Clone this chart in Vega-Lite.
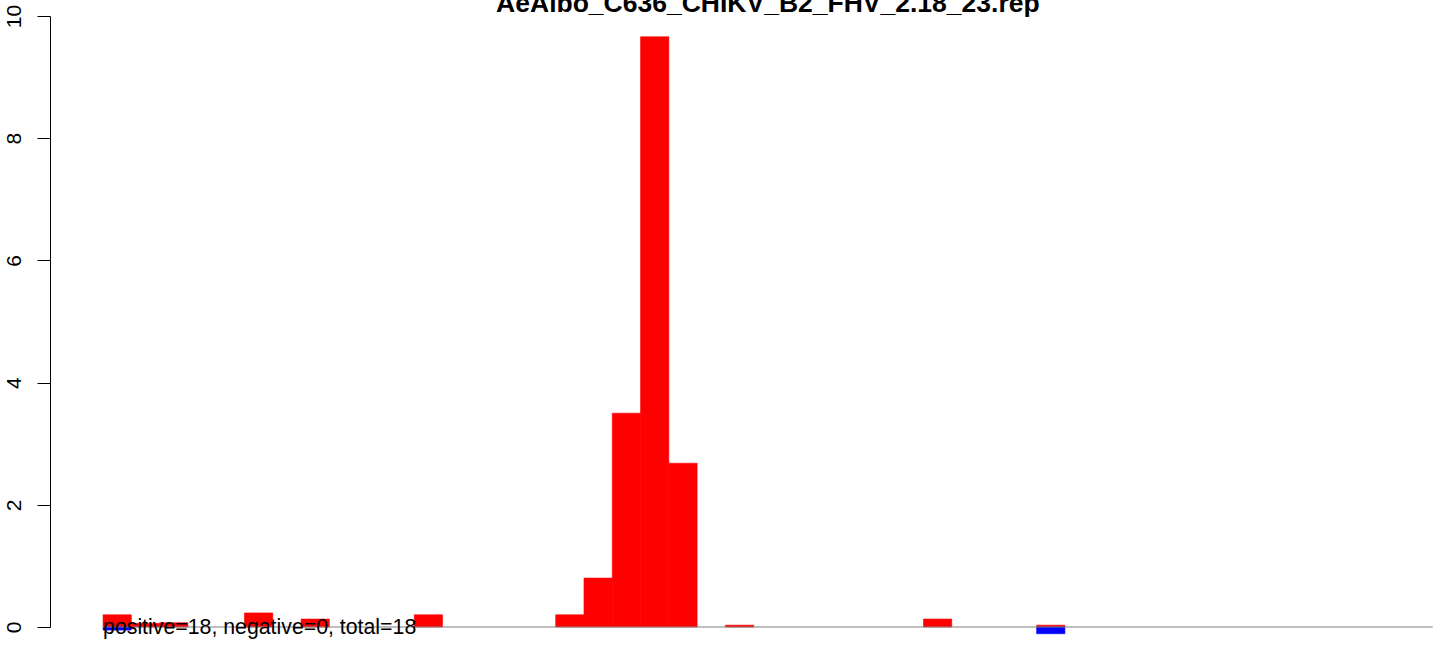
{
  "$schema": "https://vega.github.io/schema/vega-lite/v6.json",
  "autosize": {"type": "none"},
  "width": 1394,
  "height": 611,
  "padding": {"left": 50, "top": 16, "right": 0, "bottom": 18},
  "background": "white",
  "config": {"view": {"stroke": null}, "font": "Liberation Sans"},
  "datasets": {
    "bars": [
      {"start": 0, "end": 1, "value": 0.2, "strand": "positive"},
      {"start": 0, "end": 1, "value": -0.05, "strand": "negative"},
      {"start": 1, "end": 2, "value": 0.06, "strand": "positive"},
      {"start": 2, "end": 3, "value": 0.07, "strand": "positive"},
      {"start": 5, "end": 6, "value": 0.23, "strand": "positive"},
      {"start": 7, "end": 8, "value": 0.13, "strand": "positive"},
      {"start": 11, "end": 12, "value": 0.2, "strand": "positive"},
      {"start": 16, "end": 17, "value": 0.2, "strand": "positive"},
      {"start": 17, "end": 18, "value": 0.8, "strand": "positive"},
      {"start": 18, "end": 19, "value": 3.5, "strand": "positive"},
      {"start": 19, "end": 20, "value": 9.66, "strand": "positive"},
      {"start": 20, "end": 21, "value": 2.68, "strand": "positive"},
      {"start": 22, "end": 23, "value": 0.03, "strand": "positive"},
      {"start": 29, "end": 30, "value": 0.13, "strand": "positive"},
      {"start": 33, "end": 34, "value": 0.03, "strand": "positive"},
      {"start": 33, "end": 34, "value": -0.11, "strand": "negative"}
    ]
  },
  "layer": [
    {
      "data": {"name": "bars"},
      "mark": {"type": "bar", "strokeWidth": 0.6},
      "encoding": {
        "x": {"field": "start", "type": "quantitative", "scale": {"domain": [-1.875, 47.4], "nice": false, "zero": false}, "axis": null},
        "x2": {"field": "end"},
        "y": {"field": "value", "type": "quantitative", "scale": {"domain": [0, 10], "nice": false}, "axis": {
          "values": [0, 2, 4, 6, 8, 10], "format": "d", "title": null, "grid": false,
          "domainColor": "black", "tickColor": "black", "tickSize": 13,
          "labelAngle": 270, "labelAlign": "center", "labelBaseline": "alphabetic",
          "labelPadding": 17, "labelFontSize": 21, "labelColor": "black", "labelFont": "Liberation Sans"
        }},
        "y2": {"datum": 0},
        "color": {"field": "strand", "type": "nominal", "scale": {"domain": ["positive", "negative"], "range": ["#FF0000", "#0000FF"]}, "legend": null},
        "stroke": {"field": "strand", "type": "nominal", "scale": {"domain": ["positive", "negative"], "range": ["#FF0000", "#0000FF"]}, "legend": null}
      }
    },
    {
      "data": {"values": [{"x0": 0, "x1": 47, "y": 0}]},
      "mark": {"type": "rule", "color": "#808080", "strokeWidth": 1.2},
      "encoding": {
        "x": {"field": "x0", "type": "quantitative"},
        "x2": {"field": "x1"},
        "y": {"field": "y", "type": "quantitative"}
      }
    },
    {
      "data": {"values": [{"x": 0, "y": -0.115, "label": "positive=18, negative=0, total=18"}]},
      "mark": {"type": "text", "align": "left", "baseline": "alphabetic", "fontSize": 21.3, "font": "Liberation Sans", "color": "black"},
      "encoding": {
        "x": {"field": "x", "type": "quantitative"},
        "y": {"field": "y", "type": "quantitative"},
        "text": {"field": "label"}
      }
    },
    {
      "data": {"values": [{"x": 23.5, "y": 10.065, "label": "AeAlbo_C636_CHIKV_B2_FHV_2.18_23.rep"}]},
      "mark": {"type": "text", "align": "center", "baseline": "alphabetic", "fontSize": 26.5, "fontWeight": "bold", "font": "Liberation Sans", "color": "black"},
      "encoding": {
        "x": {"field": "x", "type": "quantitative"},
        "y": {"field": "y", "type": "quantitative"},
        "text": {"field": "label"}
      }
    }
  ]
}
